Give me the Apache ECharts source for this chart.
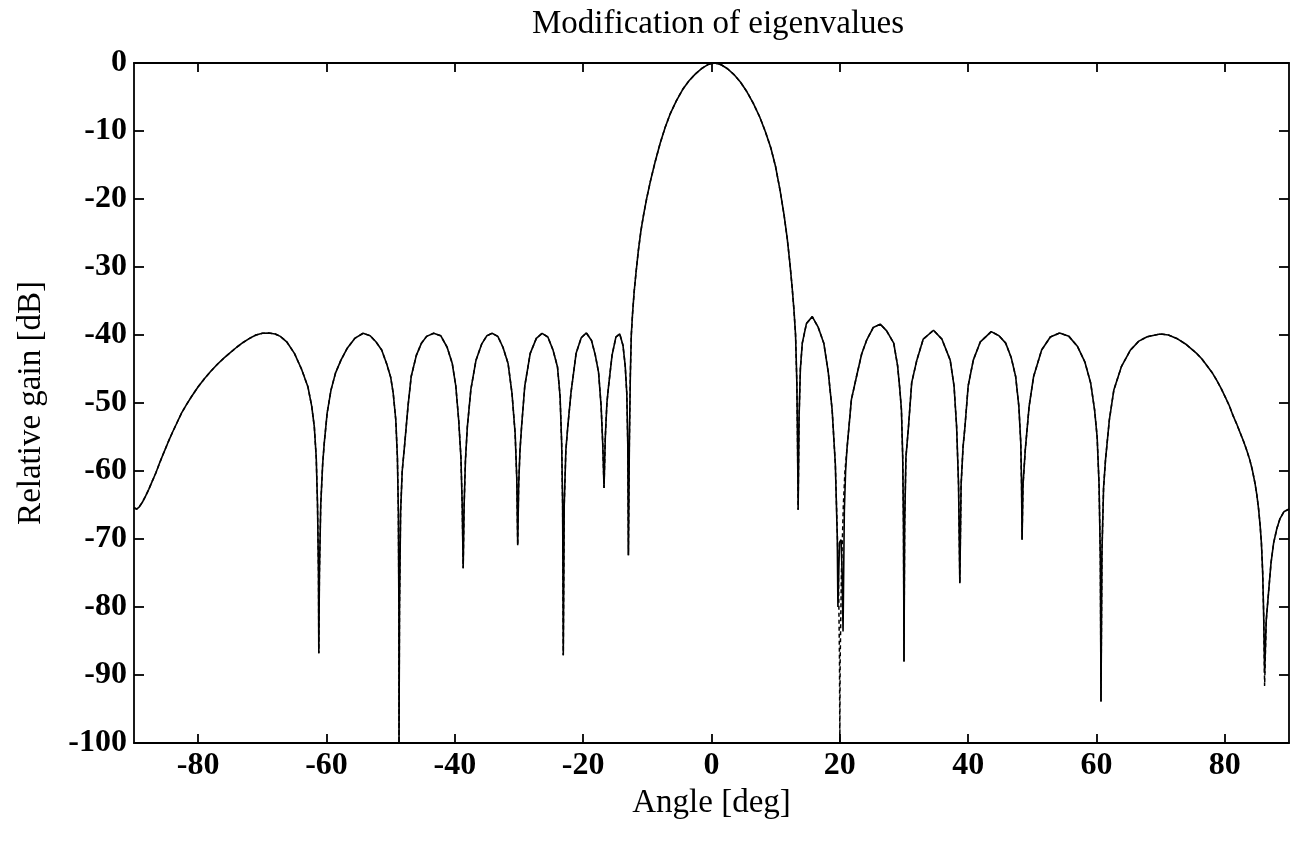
<!DOCTYPE html>
<html>
<head>
<meta charset="utf-8">
<title>Modification of eigenvalues</title>
<script src="https://cdn.jsdelivr.net/npm/echarts@6/dist/echarts.min.js"></script>
<style>
  html, body { margin: 0; padding: 0; background: #fff; }
  #chart { width: 1301px; height: 852px; }
</style>
</head>
<body>
<div id="chart"></div>
<script>
// Beam pattern after eigenvalue modification: [angle (deg), relative gain (dB)]
const modifiedPattern = [
  [-90, -65.4], [-89.6, -65.6], [-89.2, -65.3], [-88.7, -64.6], [-88.2, -63.7], [-87.7, -62.7],
  [-87.2, -61.6], [-86.6, -60.3], [-86.0, -58.8], [-85.4, -57.4], [-84.7, -55.8], [-84.0, -54.3],
  [-83.3, -52.9], [-82.6, -51.5], [-81.8, -50.2], [-81.0, -49.0], [-80.0, -47.6], [-79.0, -46.4],
  [-78.0, -45.3], [-77.0, -44.3], [-76.0, -43.4], [-75.0, -42.6], [-74.0, -41.8], [-73.0, -41.1],
  [-72.0, -40.5], [-71.0, -40.0], [-70.0, -39.75], [-69.0, -39.7], [-68.0, -39.85],
  [-67.2, -40.2], [-66.2, -41.0], [-65.0, -42.7], [-63.9, -45.0], [-62.9, -47.6], [-62.3, -50.5],
  [-61.9, -53.5], [-61.6, -58], [-61.4, -65], [-61.25, -75], [-61.2, -86.8],
  [-61.1, -75], [-60.9, -65], [-60.6, -59], [-60.35, -55.9], [-59.9, -51.5], [-59.3, -48.1],
  [-58.6, -45.6], [-57.75, -43.7], [-56.8, -42.0], [-55.6, -40.5], [-54.3, -39.75], [-53.2, -40.1],
  [-52.3, -41.0], [-51.4, -42.2], [-50.6, -44.3], [-50.0, -46.2], [-49.6, -48.6], [-49.2, -52.5],
  [-48.95, -58], [-48.8, -66], [-48.72, -80], [-48.7, -100],
  [-48.62, -80], [-48.45, -66], [-48.2, -60], [-47.8, -55.9], [-47.3, -50.5], [-46.8, -46.1],
  [-46.0, -43.0], [-45.2, -41.2], [-44.4, -40.2], [-43.3, -39.75], [-42.2, -40.1], [-41.2, -41.8],
  [-40.4, -44.2], [-39.85, -47.5], [-39.4, -52.5], [-39.05, -58], [-38.85, -65], [-38.7, -74.3],
  [-38.55, -65], [-38.35, -58.5], [-38.05, -53.5], [-37.5, -48], [-36.7, -43.7], [-35.8, -41.3],
  [-35.0, -40.1], [-34.2, -39.75], [-33.3, -40.2], [-32.5, -41.8], [-31.7, -44.2], [-31.1, -48.5],
  [-30.6, -54.5], [-30.35, -61], [-30.2, -70.9],
  [-30.05, -62], [-29.85, -57], [-29.6, -53.5], [-29.1, -47.5], [-28.25, -42.7], [-27.3, -40.5],
  [-26.4, -39.75], [-25.5, -40.3], [-24.7, -42.2], [-24.0, -44.7], [-23.6, -49], [-23.35, -55.9],
  [-23.2, -65], [-23.1, -87.1],
  [-22.95, -65], [-22.7, -57], [-22.4, -53.5], [-21.9, -48.5], [-21.1, -42.7], [-20.3, -40.4],
  [-19.5, -39.7], [-18.7, -40.8], [-18.1, -43.0], [-17.6, -45.5], [-17.2, -50.5], [-16.95, -56],
  [-16.75, -62.5],
  [-16.55, -55], [-16.3, -50], [-16.05, -47.6], [-15.5, -43.0], [-14.9, -40.3], [-14.3, -39.85],
  [-13.8, -41.5], [-13.45, -44.5], [-13.2, -48.6], [-13.05, -56], [-12.95, -72.4],
  [-12.8, -56], [-12.65, -46], [-12.5, -40], [-12.3, -36.8], [-12.05, -33.6], [-11.75, -30.7],
  [-11.4, -27.6], [-11.0, -24.7], [-10.6, -22.4], [-10.1, -19.9], [-9.5, -17.3], [-8.8, -14.6],
  [-8.0, -11.8], [-7.2, -9.4], [-6.4, -7.4], [-5.5, -5.6], [-4.5, -3.9], [-3.5, -2.6],
  [-2.5, -1.6], [-1.5, -0.8], [-0.5, -0.2], [0.5, 0], [1.5, -0.25], [2.5, -0.85], [3.5, -1.7],
  [4.5, -2.8], [5.5, -4.2], [6.5, -5.9], [7.5, -7.9], [8.4, -10.1], [9.25, -12.5], [10.0, -15.3],
  [10.7, -18.8], [11.3, -22.3], [11.8, -25.8], [12.2, -29.3], [12.55, -32.8], [12.85, -36.3],
  [13.1, -40], [13.3, -47], [13.4, -55], [13.5, -65.7],
  [13.65, -52], [13.85, -45], [14.15, -41.2], [14.8, -38.3], [15.7, -37.3], [16.6, -38.8],
  [17.5, -41.2], [18.2, -45.5], [18.8, -51.0], [19.3, -59], [19.6, -69.7], [19.7, -80],
  [19.95, -70.5], [20.2, -70.1], [20.35, -75], [20.5, -83.6],
  [20.7, -66], [20.9, -60], [21.1, -56.9], [21.8, -49.5], [22.6, -46.1], [23.4, -42.8],
  [24.2, -40.7], [25.2, -38.9], [26.3, -38.4], [27.3, -39.4], [28.4, -41.2], [29.0, -44.5],
  [29.35, -48], [29.6, -51.0], [29.8, -58], [29.92, -68], [30.0, -88.0],
  [30.1, -68], [30.3, -58], [30.7, -53.5], [31.2, -47], [32.0, -43.7], [33.0, -40.6],
  [34.6, -39.3], [35.9, -40.6], [37.2, -43.7], [37.8, -47.5], [38.2, -53.5], [38.5, -62],
  [38.7, -76.5],
  [38.9, -62], [39.2, -56.5], [39.5, -53.5], [40.0, -47.5], [40.8, -43.7], [41.9, -41.0],
  [43.6, -39.5], [44.8, -40.1], [45.85, -41.2], [46.7, -43.3], [47.4, -46.1], [47.9, -50.5],
  [48.2, -55.9], [48.32, -62], [48.4, -70.1],
  [48.55, -62], [48.9, -56.9], [49.5, -50.5], [50.2, -46.1], [51.45, -42.2], [52.8, -40.3],
  [54.25, -39.7], [55.7, -40.2], [57.05, -41.7], [58.2, -44.0], [59.1, -47.1], [59.7, -51],
  [60.1, -55.0], [60.4, -62], [60.6, -73], [60.7, -93.9],
  [60.85, -72], [61.1, -62.5], [61.4, -58.4], [62.0, -52.5], [62.7, -48.1], [63.9, -44.6],
  [65.3, -42.2], [66.6, -40.9], [67.9, -40.25], [69.9, -39.85], [71.2, -40.0], [72.5, -40.5],
  [74.0, -41.4], [75.6, -42.7], [76.4, -43.5], [77.2, -44.5], [78.0, -45.5], [78.7, -46.6],
  [79.4, -47.8], [80.0, -49.0], [80.7, -50.4], [81.3, -51.9], [81.9, -53.2], [82.4, -54.4],
  [82.9, -55.6], [83.4, -56.9], [83.9, -58.4], [84.3, -59.9], [84.7, -61.8], [85.0, -63.6],
  [85.25, -65.5], [85.5, -68], [85.7, -70.6], [85.9, -75], [86.05, -81], [86.2, -89.7],
  [86.45, -82], [86.8, -78.0], [87.2, -73.5], [87.6, -70.6], [88.1, -68.5], [88.6, -67.0],
  [89.2, -66.0], [90, -65.6]
];

// Unmodified pattern: identical except for the deep null near 20 deg and the one near 86 deg
const originalNotch20 = [
  [19.3, -59], [19.6, -69], [19.8, -76], [19.95, -88], [20.0, -100], [20.05, -88],
  [20.25, -75], [20.55, -65], [20.8, -60]
];
const originalNotch86 = [[86.2, -91.6]];

const xTickValues = [-80, -60, -40, -20, 0, 20, 40, 60, 80];

function replaceRange(base, patch, lo, hi) {
  const kept = base.filter(p => p[0] < lo || p[0] > hi);
  return kept.concat(patch).sort((a, b) => a[0] - b[0]);
}
let originalPattern = replaceRange(modifiedPattern, originalNotch20, 19.25, 21.05);
originalPattern = replaceRange(originalPattern, originalNotch86, 86.1, 86.3);

const serif = 'Liberation Serif, Times New Roman, serif';
const axisLineStyle = { color: '#000', width: 1.8 };
const tickFont = { fontFamily: serif, fontSize: 32, fontWeight: 'bold', color: '#000' };
const nameFont = { fontFamily: serif, fontSize: 33, color: '#000' };

const chart = echarts.init(document.getElementById('chart'), null, { renderer: 'canvas' });
chart.setOption({
  backgroundColor: '#fff',
  animation: false,
  title: {
    text: 'Modification of eigenvalues',
    left: 527,
    top: 3,
    textStyle: { fontFamily: serif, fontSize: 33, fontWeight: 'normal', color: '#000' }
  },
  grid: { left: 134, right: 12, top: 63, bottom: 109 },
  xAxis: [
    {
      type: 'value', min: -90, max: 90, position: 'bottom',
      name: 'Angle [deg]', nameLocation: 'middle', nameGap: 41,
      nameTextStyle: nameFont,
      axisLine: { show: true, onZero: false, lineStyle: axisLineStyle },
      axisTick: { show: true, inside: true, length: 9, customValues: xTickValues, lineStyle: axisLineStyle },
      axisLabel: Object.assign({ customValues: xTickValues, margin: 7 }, tickFont),
      splitLine: { show: false }
    },
    {
      type: 'value', min: -90, max: 90, position: 'top',
      axisLine: { show: true, onZero: false, lineStyle: axisLineStyle },
      axisTick: { show: true, inside: true, length: 9, customValues: xTickValues, lineStyle: axisLineStyle },
      axisLabel: { show: false },
      splitLine: { show: false }
    }
  ],
  yAxis: [
    {
      type: 'value', min: -100, max: 0, interval: 10, position: 'left',
      name: 'Relative gain [dB]', nameLocation: 'middle', nameGap: 86, nameRotate: 90,
      nameTextStyle: nameFont,
      axisLine: { show: true, onZero: false, lineStyle: axisLineStyle },
      axisTick: { show: true, inside: true, length: 10, lineStyle: axisLineStyle },
      axisLabel: Object.assign({ margin: 7 }, tickFont),
      splitLine: { show: false }
    },
    {
      type: 'value', min: -100, max: 0, interval: 10, position: 'right',
      axisLine: { show: true, onZero: false, lineStyle: axisLineStyle },
      axisTick: { show: true, inside: true, length: 10, lineStyle: axisLineStyle },
      axisLabel: { show: false },
      splitLine: { show: false }
    }
  ],
  series: [
    {
      name: 'Original',
      type: 'line',
      xAxisIndex: 0, yAxisIndex: 0,
      data: originalPattern,
      showSymbol: false,
      lineStyle: { color: '#000', width: 1.5, type: [4, 3] },
      z: 2
    },
    {
      name: 'Modified',
      type: 'line',
      xAxisIndex: 0, yAxisIndex: 0,
      data: modifiedPattern,
      showSymbol: false,
      lineStyle: { color: '#000', width: 1.6 },
      z: 3
    }
  ]
});
</script>
</body>
</html>
